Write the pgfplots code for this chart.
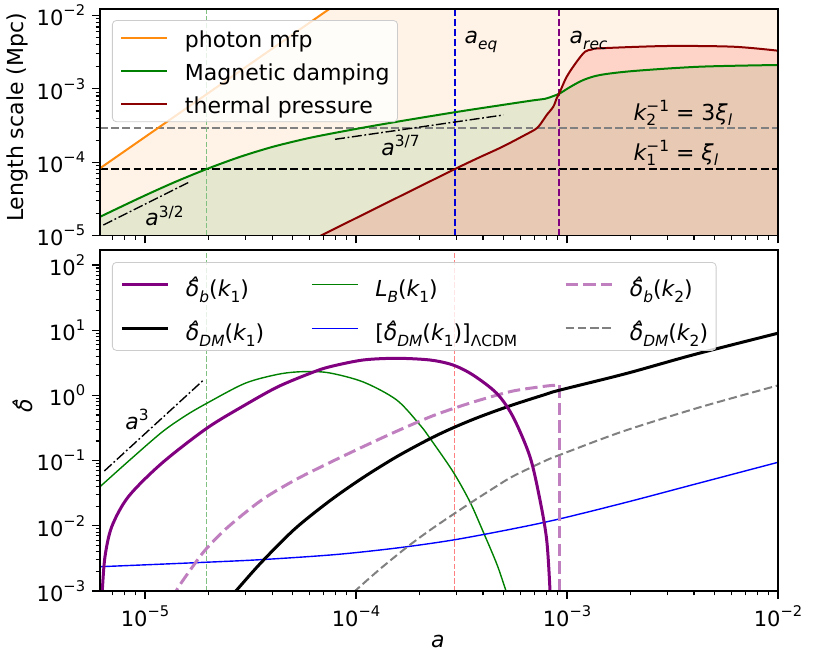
\documentclass[border=0pt]{standalone}
\usepackage{fontspec}
\setmainfont{DejaVu Sans}
\usepackage{pgfplots}
\pgfplotsset{compat=1.18}

\definecolor{morange}{HTML}{FF8C0F}
\definecolor{mgreen}{HTML}{008000}
\definecolor{mred}{HTML}{8B0000}
\definecolor{mpurple}{HTML}{800080}
\definecolor{mgray}{HTML}{808080}
\definecolor{mblue}{HTML}{0000FF}

\newcommand{\mi}[1]{{\itshape #1}}
\newcommand{\sbs}[1]{\raisebox{-0.26em}{\fontsize{7.7pt}{8pt}\selectfont #1}}
\newcommand{\sps}[1]{\raisebox{0.40em}{\fontsize{7.7pt}{8pt}\selectfont #1}}
\newcommand{\tsp}[1]{\raisebox{0.47em}{\fontsize{7.35pt}{8pt}\selectfont #1}}
\newcommand{\dhat}{\mbox{\itshape δ\llap{\raisebox{0.1em}{ˆ}\hspace{0.03em}}}}
\newcommand{\lf}{\fontsize{11}{13}\selectfont}
\newcommand{\tf}{\fontsize{10.5}{12}\selectfont}

\pgfplotstableread{
a L
6.117e-6 1.799e-5
9.469e-6 3.273e-5
1.3617e-5 5.248e-5
1.961e-5 8.072e-5
2.8196e-5 1.1830e-4
4.0551e-5 1.6293e-4
5.8396e-5 2.1038e-4
7.8053e-5 2.4889e-4
1.1233e-4 3.0200e-4
1.6160e-4 3.6224e-4
2.9445e-4 4.8084e-4
4.8139e-4 5.9704e-4
6.9231e-4 6.9823e-4
7.8668e-4 7.3282e-4
8.6097e-4 7.9799e-4
9.2622e-4 8.7096e-4
1.0332e-3 1.0593e-3
1.1950e-3 1.3219e-3
1.4335e-3 1.5474e-3
2.0617e-3 1.7539e-3
4.2697e-3 2.0090e-3
1e-2 2.1193e-3
}\magdamp

\pgfplotstableread{
a L
5.623e-5 7.568e-6
2.9445e-4 8.072e-5
4.8139e-4 1.5668e-4
6.2140e-4 2.2909e-4
7.1862e-4 2.9013e-4
7.7213e-4 3.7644e-4
8.0128e-4 4.4045e-4
8.6097e-4 5.7175e-4
8.9352e-4 7.4438e-4
9.2622e-4 9.1562e-4
9.9678e-4 1.4667e-3
1.1117e-3 2.3496e-3
1.2170e-3 3.2171e-3
1.3133e-3 3.4475e-3
1.4335e-3 3.5801e-3
2.9688e-3 3.8478e-3
6.1391e-3 3.7637e-3
1e-2 3.3196e-3
}\thermal

\begin{document}
\begin{tikzpicture}
\path[use as bounding box] (-50pt,-35pt) rectangle (356.5pt,295.5pt);

% ---------------- top panel ----------------
\begin{axis}[
  scale only axis, width=339pt, height=113.25pt,
  at={(0pt,177.75pt)}, anchor=south west,
  xmode=log, ymode=log, log origin y=infty,
  xmin=6.117e-6, xmax=1e-2, ymin=1e-5, ymax=1.23e-2,
  tick align=outside, tick pos=left,
  major tick length=3.9pt, minor tick length=2.2pt,
  tick style={black, line width=0.55pt},
  axis line style={line width=0.55pt},
  axis on top,
  xtick={1e-5,1e-4,1e-3,1e-2},
  minor xtick={7e-6,8e-6,9e-6,2e-5,3e-5,4e-5,5e-5,6e-5,7e-5,8e-5,9e-5,2e-4,3e-4,4e-4,5e-4,6e-4,7e-4,8e-4,9e-4,2e-3,3e-3,4e-3,5e-3,6e-3,7e-3,8e-3,9e-3},
  xticklabels={},
  ytick={1e-5,1e-4,1e-3,1e-2},
  yticklabels={10\tsp{−5},10\tsp{−4},10\tsp{−3},10\tsp{−2}},
  minor ytick={2e-5,3e-5,4e-5,5e-5,6e-5,7e-5,8e-5,9e-5,2e-4,3e-4,4e-4,5e-4,6e-4,7e-4,8e-4,9e-4,2e-3,3e-3,4e-3,5e-3,6e-3,7e-3,8e-3,9e-3},
  yticklabel style={font=\tf},
  ylabel={Length scale (Mpc)},
  ylabel style={at={(axis description cs:-0.1217,0.521)}, anchor=center, font=\lf},
  legend cell align=left,
  legend image code/.code={\draw[#1] (0pt,0pt) -- (23pt,0pt);},
  legend style={at={(0.0177,0.951)}, anchor=north west,
    draw=black!20, rounded corners=2pt, fill=white, fill opacity=0.8, text opacity=1, draw opacity=1,
    inner xsep=4pt, inner ysep=3pt, row sep=4.9pt,
    font=\lf,
    nodes={inner sep=0pt, text height=10.3pt, text depth=1.3pt},
    /tikz/every odd column/.append style={column sep=8.3pt}},
]
% fills
\addplot[draw=none, fill=morange, fill opacity=0.1, forget plot] coordinates {
(6.117e-6,1e-5) (6.117e-6,8.26e-5) (1e-3,2.2) (1e-2,2.2) (1e-2,1e-5)} -- cycle;
\addplot[draw=none, fill=mgreen, fill opacity=0.1, forget plot, smooth] table[x=a, y=L] {\magdamp} \closedcycle;
\addplot[draw=none, fill=red, fill opacity=0.13, forget plot, smooth] table[x=a, y=L] {\thermal} \closedcycle;
% horizontal reference lines
\addplot[mgray, line width=1pt, dash pattern=on 3.9pt off 1.7pt, forget plot] coordinates {(6.117e-6,2.95e-4) (1e-2,2.95e-4)};
\addplot[black, line width=1pt, dash pattern=on 3.9pt off 1.7pt, forget plot] coordinates {(6.117e-6,8.07e-5) (1e-2,8.07e-5)};
% vertical reference lines
\addplot[mgreen!50, line width=0.6pt, dash pattern=on 2.6pt off 1.1pt, forget plot] coordinates {(1.96e-5,1e-5) (1.96e-5,1.23e-2)};
\addplot[mblue!85!black, line width=0.8pt, dash pattern=on 3.5pt off 1.5pt, forget plot] coordinates {(2.94e-4,1e-5) (2.94e-4,1.23e-2)};
\addplot[mpurple, line width=0.8pt, dash pattern=on 3.5pt off 1.5pt, forget plot] coordinates {(9.16e-4,1e-5) (9.16e-4,1.23e-2)};
% dash-dot guides
\addplot[black, line width=0.7pt, dash pattern=on 5pt off 1.3pt on 0.9pt off 1.3pt, forget plot] coordinates {(6.34e-6,1.39e-5) (1.633e-5,5.42e-5)};
\addplot[black, line width=0.7pt, dash pattern=on 5pt off 1.3pt on 0.9pt off 1.3pt, forget plot] coordinates {(7.955e-5,2.053e-4) (4.99e-4,4.404e-4)};
% curves
\addplot[morange, line width=1pt, forget plot] coordinates {(6.117e-6,8.26e-5) (1e-3,2.2)};
\addplot[mgreen, line width=1pt, forget plot, smooth] table[x=a, y=L] {\magdamp};
\addplot[mred, line width=1pt, forget plot, smooth] table[x=a, y=L] {\thermal};
% labels
\node[anchor=base west, inner sep=0pt, font=\lf] at (axis cs:3.262e-4,4.10e-3) {\mi{a}\sbs{\mi{eq}}};
\node[anchor=base west, inner sep=0pt, font=\lf] at (axis cs:1.0254e-3,4.10e-3) {\mi{a}\sbs{\mi{rec}}};
\node[anchor=base west, inner sep=0pt, font=\lf] at (axis cs:1e-5,1.349e-5) {\mi{a}\sps{3/2}};
\node[anchor=base west, inner sep=0pt, font=\lf] at (axis cs:1.3136e-4,1.227e-4) {\mi{a}\sps{3/7}};
\node[anchor=base west, inner sep=0pt, font=\lf] at (axis cs:2.06e-3,3.764e-4) {\mi{k}\rlap{\sbs{2}}\sps{−1} = 3\mi{ξ}\sbs{\mi{l}}};
\node[anchor=base west, inner sep=0pt, font=\lf] at (axis cs:2.06e-3,1.0715e-4) {\mi{k}\rlap{\sbs{1}}\sps{−1} = \mi{ξ}\sbs{\mi{l}}};
% legend
\addlegendimage{morange, line width=1pt}\addlegendentry{photon mfp}
\addlegendimage{mgreen, line width=1pt}\addlegendentry{Magnetic damping}
\addlegendimage{mred, line width=1pt}\addlegendentry{thermal pressure}
\end{axis}

% ---------------- bottom panel ----------------
\begin{axis}[
  scale only axis, width=339pt, height=170.5pt,
  at={(0pt,0pt)}, anchor=south west,
  xmode=log, ymode=log,
  xmin=6.117e-6, xmax=1e-2, ymin=1e-3, ymax=169.8,
  tick align=outside, tick pos=left,
  major tick length=3.9pt, minor tick length=2.2pt,
  tick style={black, line width=0.55pt},
  axis line style={line width=0.55pt},
  axis on top,
  xtick={1e-5,1e-4,1e-3,1e-2},
  minor xtick={7e-6,8e-6,9e-6,2e-5,3e-5,4e-5,5e-5,6e-5,7e-5,8e-5,9e-5,2e-4,3e-4,4e-4,5e-4,6e-4,7e-4,8e-4,9e-4,2e-3,3e-3,4e-3,5e-3,6e-3,7e-3,8e-3,9e-3},
  xticklabels={10\tsp{−5},10\tsp{−4},10\tsp{−3},10\tsp{−2}},
  ytick={1e-3,1e-2,1e-1,1,10,100},
  yticklabels={10\tsp{−3},10\tsp{−2},10\tsp{−1},10\tsp{0},10\tsp{1},10\tsp{2}},
  minor ytick={2e-3,3e-3,4e-3,5e-3,6e-3,7e-3,8e-3,9e-3,0.02,0.03,0.04,0.05,0.06,0.07,0.08,0.09,0.2,0.3,0.4,0.5,0.6,0.7,0.8,0.9,2,3,4,5,6,7,8,9,20,30,40,50,60,70,80,90},
  tick label style={font=\tf},
  xlabel={\mi{a}},
  every axis x label/.style={at={(axis description cs:0.4985,-0.1642)}, anchor=base, font=\lf},
  ylabel={\dhat}, ylabel style={at={(axis description cs:-0.1143,0.5425)}, anchor=center, font=\lf},
  legend columns=3,
  legend cell align=left,
  legend image code/.code={\draw[#1] (0pt,0pt) -- (23pt,0pt);},
  legend style={at={(0.0177,0.9648)}, anchor=north west,
    draw=black!20, rounded corners=2pt, fill=white, fill opacity=0.8, text opacity=1, draw opacity=1,
    inner xsep=4pt, inner ysep=3.5pt, row sep=7pt,
    font=\lf,
    nodes={inner sep=0pt, text height=13.5pt, text depth=1.5pt},
    /tikz/every odd column/.append style={column sep=8.3pt},
    /tikz/every even column/.append style={column sep=23.5pt}},
]
\addplot[mgreen!50, line width=0.6pt, dash pattern=on 2.6pt off 1.1pt, forget plot] coordinates {(1.96e-5,1e-3) (1.96e-5,169.8)};
\addplot[red!50, line width=0.6pt, dash pattern=on 2.6pt off 1.1pt, forget plot] coordinates {(2.92e-4,1e-3) (2.92e-4,169.8)};
\addplot[black, line width=0.7pt, dash pattern=on 5pt off 1.3pt on 0.9pt off 1.3pt, forget plot] coordinates {(6.414e-6,0.06927) (1.910e-5,1.766)};
% L_B(k1)
\addplot[mgreen, line width=0.7pt, forget plot, smooth] coordinates {
(6.117e-6,0.03978) (8.335e-6,0.09757) (1.2000e-5,0.27164) (1.5469e-5,0.48306) (1.9613e-5,0.75631)
(2.9782e-5,1.5332) (4.2685e-5,2.1068) (5.5284e-5,2.3093) (7.3869e-5,2.2294) (1.0829e-4,1.6052)
(1.5592e-4,0.85011) (2.0105e-4,0.35156) (2.2424e-4,0.21979) (2.8828e-4,0.06759)
(3.4703e-4,0.02317) (4.0105e-4,8.031e-3) (4.6581e-4,2.549e-3) (5.1404e-4,1e-3) (5.3703e-4,6.546e-4)};
% [delta_DM(k1)]_LCDM
\addplot[mblue, line width=0.7pt, forget plot, smooth] coordinates {
(6.117e-6,2.3588e-3) (1.7258e-5,2.7164e-3) (3.5722e-5,3.0316e-3) (7.9550e-5,3.6182e-3)
(1.5592e-4,4.5649e-3) (2.8828e-4,6.0563e-3) (5.5463e-4,8.9950e-3) (9.2622e-4,0.012807)
(1.9185e-3,0.023014) (3.9685e-3,0.042838) (1e-2,0.094167)};
% delta_DM(k2)
\addplot[mgray, line width=1pt, dash pattern=on 4.2pt off 1.9pt, forget plot, smooth] coordinates {
(8.8675e-5,7.0226e-4) (9.8923e-5,1e-3) (1.2993e-4,2.1750e-3) (1.7441e-4,4.7126e-3)
(2.2424e-4,8.5901e-3) (2.9138e-4,0.015276) (3.4703e-4,0.022217) (4.6430e-4,0.040634)
(5.5643e-4,0.057837) (8.0128e-4,0.10179) (9.1941e-4,0.12145) (1.4335e-3,0.20993)
(2.0617e-3,0.31733) (4.2697e-3,0.65917) (1e-2,1.4235)};
% delta_b(k2)
\addplot[mpurple!50, line width=1.5pt, dash pattern=on 6.2pt off 2.6pt, forget plot, smooth] coordinates {
(1.3873e-5,7.278e-4) (1.4130e-5,1.0358e-3) (1.7258e-5,2.6594e-3) (1.9613e-5,4.5166e-3)
(2.4817e-5,9.6873e-3) (3.5722e-5,0.024867) (5.1404e-5,0.050408) (7.5253e-5,0.093519)
(1.0794e-4,0.16334) (1.5592e-4,0.28240) (2.2424e-4,0.46798) (2.8828e-4,0.6273)
(3.8694e-4,0.8501) (5.5463e-4,1.1684) (8.0128e-4,1.3936) (8.9352e-4,1.4333)
(9.1645e-4,1.4333)};
\addplot[mpurple!50, line width=1.5pt, dash pattern=on 6.2pt off 2.6pt, forget plot] coordinates {
(9.1645e-4,1.4333) (9.1645e-4,5e-4)};
% delta_DM(k1)
\addplot[black, line width=1.5pt, forget plot, smooth] coordinates {
(2.3524e-5,6.099e-4) (2.7203e-5,1.0358e-3) (3.5722e-5,2.7847e-3) (5.1404e-5,9.0260e-3)
(7.5253e-5,0.024266) (1.0794e-4,0.054854) (1.5592e-4,0.11477) (2.2424e-4,0.21677)
(2.9138e-4,0.32307) (3.8694e-4,0.47141) (5.5463e-4,0.71762) (8.0128e-4,1.0508)
(9.1645e-4,1.1970) (1.9185e-3,2.1750) (3.9685e-3,4.1950) (1e-2,8.9950)};
% delta_b(k1)
\addplot[mpurple, line width=1.5pt, forget plot, smooth] coordinates {
(6.22e-6,6.1e-4) (6.275e-6,1.036e-3) (6.46e-6,3.358e-3) (6.954e-6,9.687e-3)
(8.336e-6,0.02794) (1.2e-5,0.09093) (1.961e-5,0.3129) (2.978e-5,0.7124)
(4.269e-5,1.3596) (6.166e-5,2.229) (7.526e-5,2.755) (1.0794e-4,3.491)
(1.5592e-4,3.707) (2.2424e-4,3.491) (2.8828e-4,2.926) (3.5848e-4,2.055)
(4.643e-4,1.077) (5.546e-4,0.4714) (6.676e-4,0.1148) (7.447e-4,0.02487)
(8.013e-4,6.056e-3) (8.305e-4,1.036e-3) (8.33e-4,5e-4)};
\node[anchor=base west, inner sep=0pt, font=\lf] at (axis cs:8.04e-6,0.302) {\mi{a}\sps{3}};
% legend (row-major order)
\addlegendimage{mpurple, line width=1.5pt}\addlegendentry{\dhat\sbs{\mi{b}}(\mi{k}\sbs{1})}
\addlegendimage{mgreen, line width=0.7pt}\addlegendentry{\mi{L}\sbs{\mi{B}}(\mi{k}\sbs{1})}
\addlegendimage{mpurple!50, line width=1.5pt, dash pattern=on 6.2pt off 2.6pt}\addlegendentry{\dhat\sbs{\mi{b}}(\mi{k}\sbs{2})}
\addlegendimage{black, line width=1.5pt}\addlegendentry{\dhat\sbs{\mi{DM}}(\mi{k}\sbs{1})}
\addlegendimage{mblue, line width=0.7pt}\addlegendentry{[\dhat\sbs{\mi{DM}}(\mi{k}\sbs{1})]\sbs{ΛCDM}}
\addlegendimage{mgray, line width=1pt, dash pattern=on 4.2pt off 1.9pt}\addlegendentry{\dhat\sbs{\mi{DM}}(\mi{k}\sbs{2})}
\end{axis}
\end{tikzpicture}
\end{document}
